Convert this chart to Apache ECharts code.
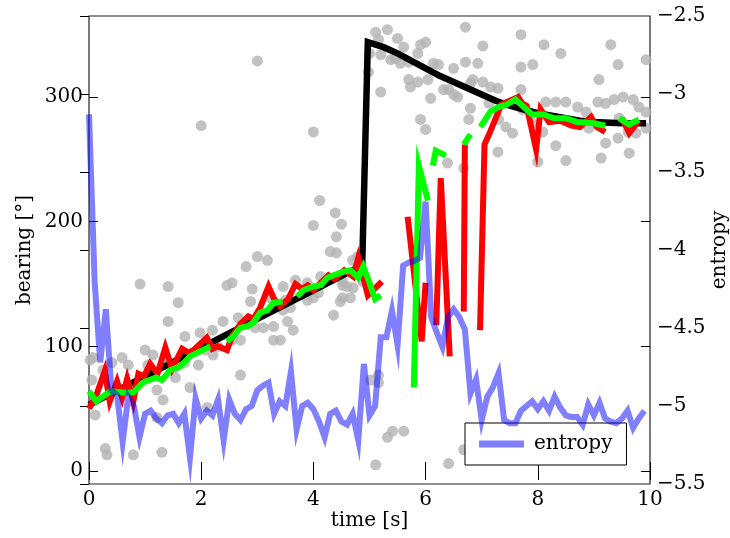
<!DOCTYPE html>
<html>
<head>
<meta charset="utf-8">
<script src="https://cdn.jsdelivr.net/npm/echarts@6/dist/echarts.min.js"></script>
<style>
html,body{margin:0;padding:0;background:#fff;}
#chart{width:730px;height:538px;}
</style>
</head>
<body>
<div id="chart"></div>
<script>
// ---- data (time [s], bearing [deg]) ----
var bearingTicks = [0, 100, 200, 300];
var timeTicks = [0, 2, 4, 6, 8, 10];
var entropyTicks = [-5.5, -5, -4.5, -4, -3.5, -3, -2.5];

var measurements = [
[3.0,329],[2.0,277],[4.0,272],[4.11,217],[4.39,207],[4.0,197],[4.5,198],[4.41,188],[4.3,176],[4.41,175],
[3.0,172],[3.18,169],[2.8,164],[5.0,335],[4.98,320],
[0.91,150],[1.41,148],[2.55,151],[2.46,149],[2.91,146],[1.59,135],[1.41,120],[3.29,105],[1.71,108],[1.98,111],
[2.2,113],[2.39,120],[2.66,123],[2.96,115],[2.55,105],[2.7,105],[2.3,100],[1.0,97],[0.59,91],[0.07,91],
[0.41,87],[0.7,85],[1.14,93],[1.05,85],[1.32,85],[1.54,83],[1.71,87],[1.95,85],[1.54,75],[1.8,67],
[2.7,77],[2.21,93],[2.07,97],[0.05,73],[0.25,81],[1.32,57],[0.11,45],[1.21,43],[0.29,18],[0.32,13],
[0.79,13],[1.3,15],[2.11,51],[1.21,65],
[0.02,89],[2.88,136],[3.11,115],[3.29,116],[3.54,120],[3.41,105],[3.64,113],[4.36,125],[4.0,139],[3.59,131],
[4.71,147],[4.66,139],[4.48,136],[4.88,152],
[4.7,169],[4.79,172],[3.68,153],[3.46,148],[3.89,151],[4.13,156],[4.52,149],[4.6,148],[3.23,139],[3.5,137],
[3.89,137],[4.09,143],[4.52,139],[3.46,129],[5.02,73],[4.52,152],
[5.16,77],[5.16,71],[5.32,27],[5.41,32],[5.61,32],[5.11,5],[6.41,6],[6.68,17],
[5.11,352],[5.32,354],[5.5,347],[5.16,346],[5.2,334],[5.38,330],[5.55,327],[5.61,340],[5.91,342],[6.0,344],
[5.86,335],[6.71,356],[7.02,341],[6.71,328],[6.93,327],[6.14,327],[6.23,326],[6.5,323],[5.7,314],[5.86,312],
[6.04,314],[5.73,308],[6.32,306],[6.57,300],[6.09,299],[6.8,311],[7.02,312],[7.16,308],[7.29,307],[6.8,291],
[6.77,282],[7.13,295],[5.91,282],[6.0,274],[5.2,304],[7.29,256],[6.68,243],[6.39,247],
[7.7,350],[8.11,342],[8.41,335],[9.3,342],[9.93,330],[7.7,324],[7.91,326],[9.43,326],[9.09,314],[5.46,331],
[5.7,328],[6.41,306],[6.5,302],[6.84,314],[7.3,282],[7.43,276],[7.7,306],[8.14,296],[8.32,296],[8.5,296],
[8.71,292],[8.86,288],[9.07,296],[9.21,295],[9.36,298],[9.52,300],[9.7,298],[9.8,292],[9.93,288],[9.21,263],
[9.43,267],[9.61,272],[9.75,271],[9.93,275],[9.13,251],[9.63,255],[8.5,249],[8.32,261],[7.73,290],[7.91,279],
[8.09,272],[7.55,271],[8.71,279],[8.91,275],[9.45,283],[8.0,248]
];

var filtered = [
[0,53],[1,76],[2,99],[3,122],[4,145],[4.87,165],[4.97,344],[5.25,340],[5.5,335],[5.75,329],[6.0,323],
[6.25,317],[6.5,312],[6.75,307],[7.0,302],[7.25,297],[7.5,293],[7.75,290],[8.0,287],[8.25,285],[8.5,283],
[8.75,281],[9.0,280],[9.5,279],[9.93,279]
];

// null = gap in the line
var redTrack = [
[0.0,50],[0.14,62],[0.28,80],[0.37,56],[0.5,72],[0.59,59],[0.68,74],[0.79,56],[0.88,78],[0.98,76],
[1.09,86],[1.22,78],[1.36,99],[1.48,82],[1.66,98],[1.77,95],[1.86,97],[1.98,102],[2.1,107],[2.2,98],
[2.3,100],[2.46,97],[2.55,108],[2.7,118],[2.84,124],[2.93,122],[3.05,131],[3.2,148],[3.3,138],[3.41,132],
[3.55,138],[3.68,150],[3.8,146],[3.9,149],[4.0,145],[4.13,151],[4.27,157],[4.38,154],[4.55,161],[4.71,156],
[4.8,171],[4.97,141],[5.22,152],
null,
[5.68,204],[5.93,104],[6.0,151],
null,
[6.19,117],[6.27,235],[6.43,92],
null,
[6.68,128],[6.7,262],
null,
[6.97,113],[7.05,262],[7.15,272],[7.25,283],[7.35,294],[7.5,297],[7.65,300],[7.72,295],[7.8,293],[7.97,258],
[8.05,290],[8.2,280],[8.4,281],[8.6,277],[8.75,276],[8.95,284],[9.05,276],[9.2,272],
null,
[9.5,283],[9.63,271],[9.8,281]
];

var greenTrack = [
[0.0,64],[0.13,56],[0.38,64],[0.61,63],[0.79,63],[0.96,71],[1.2,75],[1.3,73],[1.45,81],[1.63,84],
[1.8,92],[1.98,96],[2.16,100],
null,
[2.46,104],[2.57,108],[2.7,115],[2.82,116],[2.93,119],[3.05,127],[3.18,129],[3.29,135],[3.45,136],
null,
[3.71,140],[3.82,145],[4.0,148],[4.13,149],[4.25,155],[4.36,157],[4.54,160],[4.66,161],[4.8,155],[4.89,164],
[5.0,151],[5.1,138],[5.2,141],
null,
[5.79,67],[5.88,245],[6.04,217],
null,
[6.13,245],[6.18,257],[6.36,253],
null,
[6.68,262],[6.8,270],
null,
[6.98,276],[7.15,288],[7.3,292],[7.45,294],[7.6,298],[7.75,292],[7.9,286],[8.1,286],[8.3,283],[8.5,283],
[8.7,280],[9.0,279],[9.2,277],
null,
[9.45,283],[9.63,278],[9.8,282]
];

// (time [s], entropy)
var entropy = [
[0.0,-3.13],[0.1,-4.2],[0.2,-4.72],[0.3,-4.38],[0.4,-4.9],[0.5,-4.93],[0.6,-5.23],[0.7,-4.94],[0.8,-5.0],[0.9,-5.2],
[1.0,-5.05],[1.1,-5.03],[1.2,-5.08],[1.3,-5.11],[1.4,-5.06],[1.5,-5.05],[1.6,-5.11],[1.7,-5.05],[1.8,-5.33],[1.9,-4.95],
[2.0,-5.08],[2.1,-5.03],[2.2,-5.06],[2.3,-4.96],[2.4,-5.22],[2.5,-4.96],[2.6,-5.05],[2.7,-5.09],[2.8,-5.02],[2.9,-5.0],
[3.0,-4.9],[3.1,-4.87],[3.2,-4.85],[3.3,-5.05],[3.4,-4.97],[3.5,-5.0],[3.6,-4.78],[3.7,-5.15],[3.8,-5.0],[3.9,-4.98],
[4.0,-5.02],[4.1,-5.1],[4.2,-5.2],[4.3,-5.05],[4.4,-5.03],[4.5,-5.1],[4.6,-5.12],[4.7,-5.05],[4.8,-5.22],[4.9,-4.73],
[5.0,-5.06],[5.1,-5.0],[5.2,-4.56],[5.3,-4.56],[5.4,-4.39],[5.5,-4.61],[5.6,-4.1],[5.7,-4.08],[5.8,-4.07],[5.9,-4.05],
[6.0,-3.69],[6.1,-4.43],[6.2,-4.53],[6.3,-4.62],[6.4,-4.43],[6.5,-4.38],[6.6,-4.43],[6.7,-4.51],[6.8,-4.92],[6.9,-4.83],
[7.0,-5.09],[7.1,-4.94],[7.2,-4.88],[7.3,-4.79],[7.4,-5.09],[7.5,-5.11],[7.6,-5.11],[7.7,-5.03],[7.8,-5.0],[7.9,-4.97],
[8.0,-5.02],[8.1,-4.97],[8.2,-5.03],[8.3,-4.94],[8.4,-5.01],[8.5,-5.06],[8.6,-5.07],[8.7,-5.07],[8.8,-5.12],[8.9,-4.99],
[9.0,-5.06],[9.1,-4.98],[9.2,-5.08],[9.3,-5.1],[9.4,-5.11],[9.5,-5.08],[9.6,-5.03],[9.7,-5.14],[9.8,-5.08],[9.9,-5.03]
];

// ---- chart ----
function gaps(arr){ return arr.map(function(p){ return p === null ? ['-','-'] : p; }); }
var FONT = 'DejaVu Serif';
var txt = {fontFamily: FONT, fontSize: 20, color: '#000'};
function minus(v){ return String(v).replace('-', '\u2212'); }

var chart = echarts.init(document.getElementById('chart'), null, {renderer: 'canvas'});
chart.setOption({
  animation: false,
  backgroundColor: '#fff',
  grid: {left: 89, right: 80, top: 16, bottom: 54, containLabel: false, outerBoundsMode: 'none',
         show: true, borderColor: '#222', borderWidth: 1.2, backgroundColor: 'transparent'},
  legend: {
    data: ['entropy'], left: 465, top: 423, orient: 'horizontal',
    padding: [11, 14, 11, 14], borderColor: '#000', borderWidth: 1, borderRadius: 0, backgroundColor: '#fff',
    icon: 'rect', itemWidth: 45, itemHeight: 7,
    textStyle: {fontFamily: FONT, fontSize: 20, color: '#000', padding: [0, 0, 0, 5]}
  },
  xAxis: [
    {type: 'value', min: 0, max: 10, interval: 2, position: 'bottom',
     axisLine: {show: false}, splitLine: {show: false},
     axisTick: {inside: true, length: 9, lineStyle: {color: '#000'}, customValues: timeTicks},
     axisLabel: Object.assign({margin: 6, customValues: timeTicks}, txt),
     name: 'time [s]', nameLocation: 'middle', nameGap: 27, nameMoveOverlap: false, nameTextStyle: txt},
    {type: 'value', min: 0, max: 10, interval: 2, position: 'top',
     axisLine: {show: false}, splitLine: {show: false},
     axisTick: {inside: true, length: 9, lineStyle: {color: '#000'}, customValues: timeTicks},
     axisLabel: {show: false}}
  ],
  yAxis: [
    {type: 'value', min: -10.4, max: 365, position: 'left',
     axisLine: {show: false}, splitLine: {show: false},
     axisTick: {inside: true, length: 9, lineStyle: {color: '#000'}, customValues: bearingTicks},
     axisLabel: Object.assign({margin: 6, customValues: bearingTicks}, txt),
     name: 'bearing [°]', nameLocation: 'middle', nameGap: 54, nameRotate: 90, nameMoveOverlap: false, nameTextStyle: txt},
    {type: 'value', min: -5.5, max: -2.5, interval: 0.5, position: 'right',
     axisLine: {show: false}, splitLine: {show: false},
     axisTick: {inside: true, length: 9, lineStyle: {color: '#000'}, customValues: entropyTicks},
     axisLabel: Object.assign({margin: 7, formatter: minus, customValues: entropyTicks}, txt),
     name: 'entropy', nameLocation: 'middle', nameGap: 60, nameRotate: 90, nameMoveOverlap: false, nameTextStyle: txt},
    {type: 'value', min: -10.4, max: 365, position: 'right', offset: 0,
     axisLine: {show: false}, splitLine: {show: false},
     axisTick: {inside: true, length: 9, lineStyle: {color: '#000'}, customValues: bearingTicks},
     axisLabel: {show: false}}
  ],
  series: [
    {name: 'measurements', type: 'scatter', xAxisIndex: 0, yAxisIndex: 0, data: measurements,
     symbol: 'circle', symbolSize: 11, itemStyle: {color: '#b3b3b3'}, silent: true, z: 1},
    {name: 'filtered', type: 'line', xAxisIndex: 0, yAxisIndex: 0, data: filtered, showSymbol: false,
     symbol: 'none', lineStyle: {color: '#000', width: 6.5, join: 'miter', miterLimit: 10, cap: 'butt'}, silent: true, z: 2},
    {name: 'red', type: 'line', xAxisIndex: 0, yAxisIndex: 0, data: gaps(redTrack), showSymbol: false, connectNulls: false,
     symbol: 'none', lineStyle: {color: '#ff0000', width: 6, join: 'miter', miterLimit: 10, cap: 'butt'}, silent: true, z: 3},
    {name: 'green', type: 'line', xAxisIndex: 0, yAxisIndex: 0, data: gaps(greenTrack), showSymbol: false, connectNulls: false,
     symbol: 'none', lineStyle: {color: '#00ff00', width: 6, join: 'miter', miterLimit: 10, cap: 'butt'}, silent: true, z: 4},
    {name: 'entropy', type: 'line', xAxisIndex: 0, yAxisIndex: 1, data: entropy, showSymbol: false,
     symbol: 'none', color: 'rgba(0,0,255,0.5)', itemStyle: {color: 'rgba(0,0,255,0.5)'},
     lineStyle: {color: 'rgba(0,0,255,0.5)', width: 6, join: 'miter', miterLimit: 10}, silent: true, z: 5}
  ]
});
</script>
</body>
</html>
